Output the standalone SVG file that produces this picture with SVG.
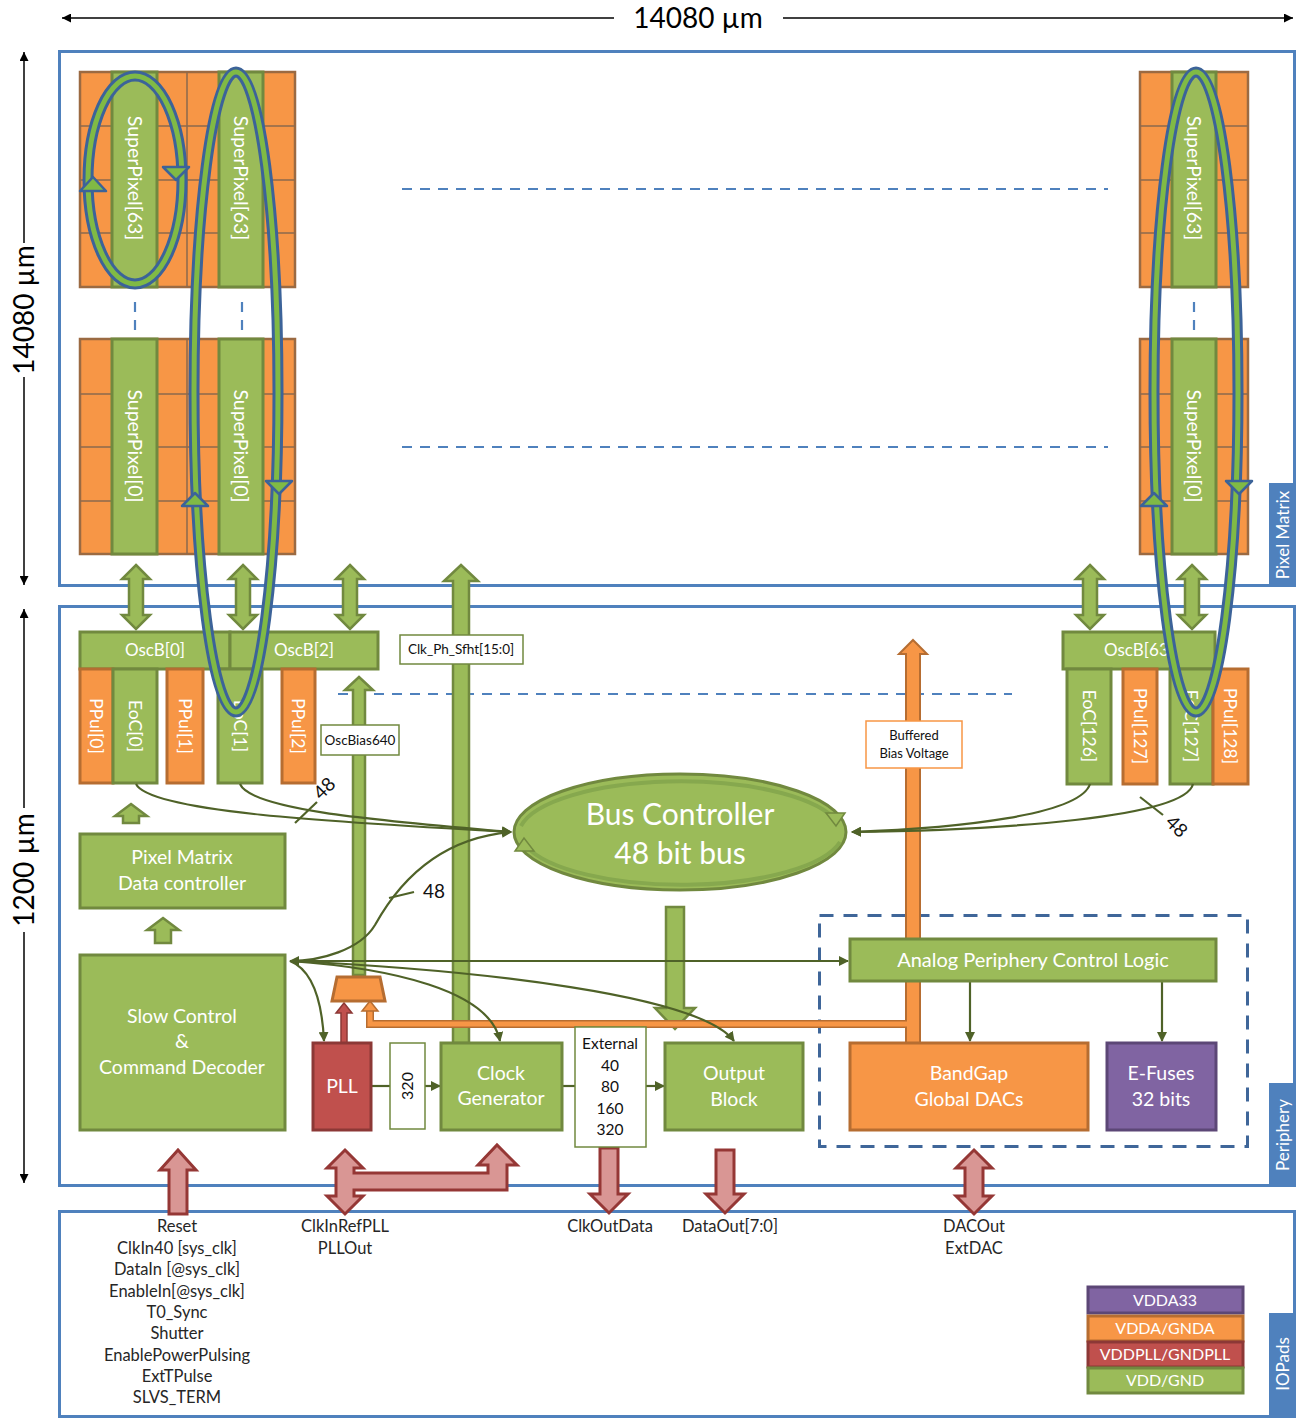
<svg xmlns="http://www.w3.org/2000/svg" width="1297" height="1418" viewBox="0 0 1297 1418">
<defs>
<style>
text{font-family:Lato,"Open Sans","Liberation Sans",sans-serif}
.g{fill:#9BBB59;stroke:#71893F;stroke-width:3}
.o{fill:#F79646;stroke:#B66D31;stroke-width:3}
.r{fill:#C0504D;stroke:#8C3836;stroke-width:3}
.p{fill:#8064A2;stroke:#5C4776;stroke-width:3}
.ob{fill:#F79646;stroke:#9B6A42;stroke-width:2.5}
.grid{stroke:#8C6A4E;stroke-width:1.5;fill:none}
.frame{fill:none;stroke:#4F81BD;stroke-width:3}
.tab{fill:#4F81BD}
.w{fill:#fff;text-anchor:middle}
.k{fill:#111;text-anchor:middle}
.io{fill:#262626;text-anchor:middle;font-size:16.5px}
.dash{stroke:#4F81BD;stroke-width:2.2;stroke-dasharray:10 8;fill:none}
.con{fill:none;stroke:#4F6228;stroke-width:2.2}
.ga{fill:#9BBB59;stroke:#71893F;stroke-width:2.5}
.ra{fill:#D99694;stroke:#953735;stroke-width:3}
.lb{fill:none;stroke:#3C6399;stroke-width:11}
.lg{fill:none;stroke:#80BA45;stroke-width:5}
.lh{fill:#80BA45;stroke:#3C6399;stroke-width:2.5;stroke-linejoin:round}
.box{fill:#fff;stroke:#71893F;stroke-width:1.5}
.col{font-size:17.5px}
.sp{font-size:19.5px}
.t18{font-size:19.5px}
</style>
<marker id="ah" viewBox="0 0 10 10" refX="9" refY="5" markerWidth="10" markerHeight="10" markerUnits="userSpaceOnUse" orient="auto-start-reverse"><path d="M0,0 L10,5 L0,10 z" fill="#4F6228"/></marker>
<marker id="da" viewBox="0 0 10 10" refX="10" refY="5" markerWidth="11" markerHeight="9" markerUnits="userSpaceOnUse" orient="auto-start-reverse"><path d="M0,0 L10,5 L0,10 z" fill="#000"/></marker>
</defs>
<rect width="1297" height="1418" fill="#fff"/>

<g id="frames">
<rect class="frame" x="59.5" y="51.5" width="1235" height="534"/>
<rect class="tab" x="1269" y="483" width="27" height="104"/>
<text class="w" font-size="17" transform="translate(1283,535) rotate(-90)" dy="0.35em">Pixel Matrix</text>
<rect class="frame" x="59.5" y="606.5" width="1235" height="579"/>
<rect class="tab" x="1269" y="1083" width="27" height="104"/>
<text class="w" font-size="17" transform="translate(1283,1135) rotate(-90)" dy="0.35em">Periphery</text>
<rect class="frame" x="59.5" y="1211.5" width="1235" height="205"/>
<rect class="tab" x="1269" y="1313" width="27" height="104"/>
<text class="w" font-size="17" transform="translate(1283,1364) rotate(-90)" dy="0.35em">IOPads</text>
</g>

<g id="dimensions" stroke="#000" stroke-width="1.5">
<line x1="62" y1="18" x2="614" y2="18" marker-start="url(#da)"/>
<line x1="783" y1="18" x2="1293" y2="18" marker-end="url(#da)"/>
<line x1="24" y1="52" x2="24" y2="243" marker-start="url(#da)"/>
<line x1="24" y1="377" x2="24" y2="585" marker-end="url(#da)"/>
<line x1="24" y1="609" x2="24" y2="808" marker-start="url(#da)"/>
<line x1="24" y1="932" x2="24" y2="1183" marker-end="url(#da)"/>
<text x="698" y="28" font-size="28" text-anchor="middle" stroke="none" fill="#000">14080 µm</text>
<text transform="translate(24,310) rotate(-90)" dy="0.35em" font-size="28" text-anchor="middle" stroke="none" fill="#000">14080 µm</text>
<text transform="translate(24,870) rotate(-90)" dy="0.35em" font-size="28" text-anchor="middle" stroke="none" fill="#000">1200 µm</text>
</g>

<g id="pm-top-left">
<rect class="ob" x="80" y="72" width="215" height="215"/>
<path class="grid" d="M80,126H295M80,180H295M80,233H295M187,72V287"/>
<rect class="g" x="112" y="72" width="45" height="215"/>
<rect class="g" x="219" y="72" width="44" height="215"/>
<text class="w sp" transform="translate(135,178) rotate(90)" dy="0.35em">SuperPixel[63]</text>
<text class="w sp" transform="translate(241,178) rotate(90)" dy="0.35em">SuperPixel[63]</text>
</g>
<g id="pm-bottom-left">
<rect class="ob" x="80" y="339" width="215" height="215"/>
<path class="grid" d="M80,394H295M80,447H295M80,501H295M187,339V554"/>
<rect class="g" x="112" y="339" width="45" height="215"/>
<rect class="g" x="219" y="339" width="44" height="215"/>
<text class="w sp" transform="translate(135,446) rotate(90)" dy="0.35em">SuperPixel[0]</text>
<text class="w sp" transform="translate(241,446) rotate(90)" dy="0.35em">SuperPixel[0]</text>
</g>
<g id="pm-top-right">
<rect class="ob" x="1140" y="72" width="108" height="215"/>
<path class="grid" d="M1140,126H1248M1140,180H1248M1140,233H1248"/>
<rect class="g" x="1172" y="72" width="44" height="215"/>
<text class="w sp" transform="translate(1194,178) rotate(90)" dy="0.35em">SuperPixel[63]</text>
</g>
<g id="pm-bottom-right">
<rect class="ob" x="1140" y="339" width="108" height="215"/>
<path class="grid" d="M1140,394H1248M1140,447H1248M1140,501H1248"/>
<rect class="g" x="1172" y="339" width="44" height="215"/>
<text class="w sp" transform="translate(1194,446) rotate(90)" dy="0.35em">SuperPixel[0]</text>
</g>

<g id="dashes">
<line class="dash" x1="402" y1="189" x2="1108" y2="189"/>
<line class="dash" x1="402" y1="447" x2="1108" y2="447"/>
<line class="dash" x1="338" y1="694" x2="1012" y2="694"/>
<path class="dash" stroke-dasharray="10 6" d="M135,302V330M242,302V330M1194,302V330"/>
<rect x="819.5" y="915.5" width="428" height="231" fill="none" stroke="#3F6699" stroke-width="3" stroke-dasharray="14 10"/>
</g>

<g id="oscb-left">
<rect class="g" x="80" y="632" width="150" height="37"/>
<rect class="g" x="230" y="632" width="148" height="37"/>
<text class="w" font-size="17" x="155" y="656">OscB[0]</text>
<text class="w" font-size="17" x="304" y="656">OscB[2]</text>
<rect class="o" x="80" y="669" width="33" height="114"/>
<rect class="g" x="113" y="669" width="44" height="114"/>
<rect class="o" x="167" y="669" width="36" height="114"/>
<rect class="g" x="218" y="669" width="44" height="114"/>
<rect class="o" x="282" y="669" width="33" height="114"/>
<text class="w col" transform="translate(96,726) rotate(90)" dy="0.35em">PPul[0]</text>
<text class="w col" transform="translate(135,726) rotate(90)" dy="0.35em">EoC[0]</text>
<text class="w col" transform="translate(185,726) rotate(90)" dy="0.35em">PPul[1]</text>
<text class="w col" transform="translate(240,726) rotate(90)" dy="0.35em">EoC[1]</text>
<text class="w col" transform="translate(298,726) rotate(90)" dy="0.35em">PPul[2]</text>
</g>
<g id="oscb-right">
<rect class="g" x="1063" y="632" width="152" height="37"/>
<text class="w" font-size="17" x="1139" y="656">OscB[63]</text>
<rect class="g" x="1067" y="669" width="44" height="115"/>
<rect class="o" x="1123" y="669" width="34" height="115"/>
<rect class="g" x="1170" y="669" width="43" height="115"/>
<rect class="o" x="1213" y="669" width="35" height="115"/>
<text class="w col" transform="translate(1089,726) rotate(90)" dy="0.35em">EoC[126]</text>
<text class="w col" transform="translate(1140,726) rotate(90)" dy="0.35em">PPul[127]</text>
<text class="w col" transform="translate(1191,726) rotate(90)" dy="0.35em">EoC[127]</text>
<text class="w col" transform="translate(1230,726) rotate(90)" dy="0.35em">PPul[128]</text>
</g>

<g id="block-arrows">
<polygon class="ga" points="136,565 150,579 143,579 143,615 150,615 136,629 122,615 129,615 129,579 122,579"/>
<polygon class="ga" points="243,565 257,579 250,579 250,615 257,615 243,629 229,615 236,615 236,579 229,579"/>
<polygon class="ga" points="350,565 364,579 357,579 357,615 364,615 350,629 336,615 343,615 343,579 336,579"/>
<polygon class="ga" points="1090,565 1104,579 1097,579 1097,615 1104,615 1090,629 1076,615 1083,615 1083,579 1076,579"/>
<polygon class="ga" points="1192,565 1206,579 1199,579 1199,615 1206,615 1192,629 1178,615 1185,615 1185,579 1178,579"/>
<polygon class="ga" points="461,565 478,581 469,581 469,1043 453,1043 453,581 444,581"/>
<polygon class="ga" points="359,677 373,690 365,690 365,975 353,975 353,690 345,690"/>
<polygon class="ga" points="666,907 684,907 684,1008 695,1008 675,1029 655,1008 666,1008"/>
<polygon class="ga" points="131,804 147,816 139,816 139,823 123,823 123,816 115,816"/>
<polygon class="ga" points="163,918 179,930 171,930 171,943 155,943 155,930 147,930"/>
<polygon fill="#F79646" stroke="#B66D31" stroke-width="2" points="913,640 927,654 920,654 920,1043 906,1043 906,654 899,654"/>
<path d="M907,1024H370V1010" fill="none" stroke="#B66D31" stroke-width="8"/>
<path d="M908,1024H370V1008" fill="none" stroke="#F79646" stroke-width="5"/>
<polygon fill="#F79646" stroke="#B66D31" stroke-width="1.5" points="370,1001 378,1011 362,1011"/>
<polygon fill="#C0504D" stroke="#8C3836" stroke-width="1.5" points="344,1003 352,1013 347,1013 347,1043 341,1043 341,1013 336,1013"/>
<polygon class="ra" points="178,1150 196,1170 187,1170 187,1214 169,1214 169,1170 160,1170"/>
<polygon class="ra" points="600,1148 618,1148 618,1194 628,1194 609,1213 590,1194 600,1194"/>
<polygon class="ra" points="716,1150 734,1150 734,1194 744,1194 725,1213 706,1194 716,1194"/>
<polygon class="ra" points="974,1150 992,1168 983,1168 983,1196 992,1196 974,1214 956,1196 965,1196 965,1168 956,1168"/>
<polygon class="ra" points="345,1150 363,1168 354,1168 354,1173 488,1173 488,1165 478,1165 497,1145 517,1165 507,1165 507,1190 354,1190 354,1196 363,1196 345,1214 327,1196 336,1196 336,1168 327,1168"/>
</g>

<g id="connectors">
<path class="con" d="M136,784 C150,812 330,822 511,832" marker-end="url(#ah)"/>
<path class="con" d="M240,784 C252,812 400,822 511,832" marker-end="url(#ah)"/>
<path class="con" d="M511,832 C440,838 400,880 375,925 C360,950 320,961 290,961" marker-start="url(#ah)" marker-end="url(#ah)"/>
<path class="con" d="M1090,784 C1080,815 960,828 852,832" marker-end="url(#ah)"/>
<path class="con" d="M1193,784 C1185,818 1000,830 852,832" marker-end="url(#ah)"/>
<line class="con" x1="295" y1="823" x2="317" y2="802"/>
<line class="con" x1="389" y1="898" x2="414" y2="892"/>
<line class="con" x1="1140" y1="797" x2="1163" y2="815"/>
<text transform="translate(329,793) rotate(-45)" font-size="19" text-anchor="middle" fill="#111">48</text>
<text x="434" y="898" font-size="19" text-anchor="middle" fill="#111">48</text>
<text transform="translate(1172,831) rotate(45)" font-size="19" text-anchor="middle" fill="#111">48</text>
<path class="con" d="M290,961 C312,970 322,1000 324,1041" marker-end="url(#ah)"/>
<path class="con" d="M290,961 C390,968 490,990 500,1041" marker-end="url(#ah)"/>
<path class="con" d="M290,961 C480,970 700,995 734,1041" marker-end="url(#ah)"/>
<path class="con" d="M290,961 H848" marker-end="url(#ah)"/>
<path class="con" d="M970,982 V1041" marker-end="url(#ah)"/>
<path class="con" d="M1162,982 V1041" marker-end="url(#ah)"/>
<path class="con" d="M371,1086 H390"/>
<path class="con" d="M425,1086 H440" marker-end="url(#ah)"/>
<path class="con" d="M562,1086 H575"/>
<path class="con" d="M646,1086 H664" marker-end="url(#ah)"/>
</g>

<g id="label-clkph">
<rect class="box" x="400" y="635" width="123" height="29"/>
<text class="k" font-size="13.5" x="461" y="654">Clk_Ph_Sfht[15:0]</text>
</g>
<g id="label-oscbias">
<rect class="box" x="321" y="725" width="78" height="30"/>
<text class="k" font-size="13.5" x="360" y="745">OscBias640</text>
</g>
<g id="label-bias">
<rect x="866" y="721" width="96" height="47" fill="#fff" stroke="#F79646" stroke-width="1.5"/>
<text class="k" font-size="13" x="914" y="740">Buffered</text>
<text class="k" font-size="13" x="914" y="758">Bias Voltage</text>
</g>

<g id="bus-controller">
<ellipse cx="680" cy="832" rx="166" ry="58" fill="#9BBB59" stroke="#71893F" stroke-width="3"/>
<path d="M521,826 A162,54 0 0 1 834,818" fill="none" stroke="#86A84E" stroke-width="4"/>
<path d="M840,842 A162,54 0 0 1 526,846" fill="none" stroke="#86A84E" stroke-width="4"/>
<polygon points="826,813 845,813 836,826" fill="#9BBB59" stroke="#71893F" stroke-width="1.5"/>
<polygon points="534,851 515,851 524,838" fill="#9BBB59" stroke="#71893F" stroke-width="1.5"/>
<text class="w" font-size="30" x="680" y="825">Bus Controller</text>
<text class="w" font-size="30" x="680" y="864">48 bit bus</text>
</g>

<g id="pixel-matrix-data-controller">
<rect class="g" x="80" y="834" width="205" height="74"/>
<text class="w t18" x="182" y="864">Pixel Matrix</text>
<text class="w t18" x="182" y="890">Data controller</text>
</g>
<g id="slow-control">
<rect class="g" x="80" y="955" width="205" height="175"/>
<text class="w t18" x="182" y="1023">Slow Control</text>
<text class="w t18" x="182" y="1048">&amp;</text>
<text class="w t18" x="182" y="1074">Command Decoder</text>
</g>
<g id="mux">
<polygon class="o" points="337,977 380,977 385,1001 332,1001"/>
</g>
<g id="pll">
<rect class="r" x="313" y="1043" width="58" height="87"/>
<text class="w t18" x="342" y="1093">PLL</text>
</g>
<g id="box-320">
<rect class="box" x="390" y="1043" width="35" height="86"/>
<text class="k" font-size="16" transform="translate(407,1086) rotate(-90)" dy="0.35em">320</text>
</g>
<g id="clock-generator">
<rect class="g" x="441" y="1043" width="121" height="87"/>
<text class="w t18" x="501" y="1080">Clock</text>
<text class="w t18" x="501" y="1105">Generator</text>
</g>
<g id="external">
<rect class="box" x="575" y="1027" width="71" height="120"/>
<text class="k" font-size="15.5" x="610" y="1049">External</text>
<text class="k" font-size="15.5" x="610" y="1071">40</text>
<text class="k" font-size="15.5" x="610" y="1092">80</text>
<text class="k" font-size="15.5" x="610" y="1114">160</text>
<text class="k" font-size="15.5" x="610" y="1135">320</text>
</g>
<g id="output-block">
<rect class="g" x="665" y="1043" width="138" height="87"/>
<text class="w t18" x="734" y="1080">Output</text>
<text class="w t18" x="734" y="1106">Block</text>
</g>
<g id="analog-periphery-control-logic">
<rect class="g" x="850" y="939" width="366" height="42"/>
<text class="w" font-size="20" x="1033" y="967">Analog Periphery Control Logic</text>
</g>
<g id="bandgap">
<rect class="o" x="850" y="1043" width="238" height="87"/>
<text class="w t18" x="969" y="1080">BandGap</text>
<text class="w t18" x="969" y="1106">Global DACs</text>
</g>
<g id="efuses">
<rect class="p" x="1107" y="1043" width="109" height="87"/>
<text class="w t18" x="1161" y="1080">E-Fuses</text>
<text class="w t18" x="1161" y="1106">32 bits</text>
</g>

<g id="loops">
<ellipse class="lb" cx="135" cy="180" rx="47" ry="104"/>
<ellipse class="lg" cx="135" cy="180" rx="47" ry="104"/>
<polygon class="lh" points="93,177 106,191 80,191"/>
<polygon class="lh" points="176,180 189,167 163,167"/>
<ellipse class="lb" cx="236" cy="392" rx="42" ry="320"/>
<ellipse class="lg" cx="236" cy="392" rx="42" ry="320"/>
<polygon class="lh" points="195,493 208,506 182,506"/>
<polygon class="lh" points="279,494 292,481 266,481"/>
<ellipse class="lb" cx="1196" cy="392" rx="42" ry="320"/>
<ellipse class="lg" cx="1196" cy="392" rx="42" ry="320"/>
<polygon class="lh" points="1154,493 1167,506 1141,506"/>
<polygon class="lh" points="1239,494 1252,481 1226,481"/>
</g>

<g id="io-labels">
<text class="io" x="177" y="1232">Reset</text>
<text class="io" x="177" y="1254">ClkIn40 [sys_clk]</text>
<text class="io" x="177" y="1275">DataIn [@sys_clk]</text>
<text class="io" x="177" y="1297">EnableIn[@sys_clk]</text>
<text class="io" x="177" y="1318">T0_Sync</text>
<text class="io" x="177" y="1339">Shutter</text>
<text class="io" x="177" y="1361">EnablePowerPulsing</text>
<text class="io" x="177" y="1382">ExtTPulse</text>
<text class="io" x="177" y="1403">SLVS_TERM</text>
<text class="io" x="345" y="1232">ClkInRefPLL</text>
<text class="io" x="345" y="1254">PLLOut</text>
<text class="io" x="610" y="1232">ClkOutData</text>
<text class="io" x="730" y="1232">DataOut[7:0]</text>
<text class="io" x="974" y="1232">DACOut</text>
<text class="io" x="974" y="1254">ExtDAC</text>
</g>

<g id="power-legend">
<rect class="p" x="1088" y="1287" width="155" height="26"/>
<text class="w" font-size="16" x="1165" y="1306">VDDA33</text>
<rect class="o" x="1088" y="1316" width="155" height="25"/>
<text class="w" font-size="16" x="1165" y="1334">VDDA/GNDA</text>
<rect class="r" x="1088" y="1342" width="155" height="25"/>
<text class="w" font-size="16" x="1165" y="1360">VDDPLL/GNDPLL</text>
<rect class="g" x="1088" y="1368" width="155" height="25"/>
<text class="w" font-size="16" x="1165" y="1386">VDD/GND</text>
</g>
</svg>
